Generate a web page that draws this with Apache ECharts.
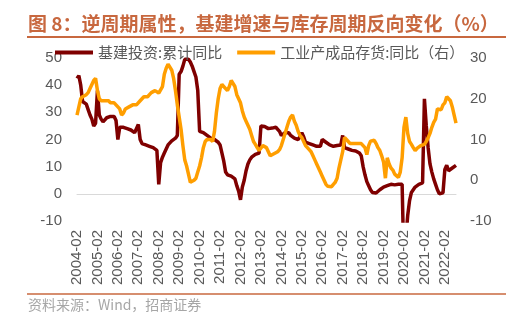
<!DOCTYPE html>
<html>
<head>
<meta charset="utf-8">
<script src="https://cdn.jsdelivr.net/npm/echarts@6/dist/echarts.min.js"></script>
<style>
  html, body { margin: 0; padding: 0; background: #fff; }
  #chart { width: 514px; height: 322px; }
</style>
</head>
<body>
<div id="chart"></div>
<script>
// Monthly observations, Feb–Dec of each year (January is not published), 2004-02 to 2022-08
const startYear = 2004;
const endYear = 2022;
const lastMonth = 8;
const categories = [];
for (let y = startYear; y <= endYear; y++) {
  for (let m = 2; m <= 12; m++) {
    if (y === endYear && m > lastMonth) break;
    categories.push(y + '-' + (m < 10 ? '0' + m : '' + m));
  }
}

// 基建投资：累计同比 (%), left axis — one row per year, Feb..Dec
const infraYoY = [
  42.5, 43.5, 40, 34, 34, 33, 31, 29, 27.5, 25, 26,          // 2004
  38, 29, 27.5, 26.5, 27, 28, 28.5, 28.5, 28, 28.5, 27,      // 2005
  20, 24.5, 25, 24.5, 24.5, 24, 23.5, 23.5, 23, 22.5, 22.5,  // 2006
  25.5, 20, 18.5, 18, 18, 18, 17.5, 17.5, 17, 16.5, 16,      // 2007
  3.5, 11.5, 13.5, 15, 16.5, 18, 18.5, 19.5, 20, 20.5, 21.5, // 2008
  44, 45, 47, 49.5, 50, 49.5, 48.5, 47, 45, 43, 38,          // 2009
  23, 22.5, 22.5, 22, 21.5, 21, 20.5, 20, 20, 19.5, 19,      // 2010
  18, 17.5, 12, 8, 7, 6.5, 6.5, 6, 5.5, 3, 1,                // 2011
  -2.2, 2.5, 5, 8.5, 11, 12.5, 13.5, 14, 14.5, 15, 15,       // 2012
  25, 24.5, 24.8, 24.5, 24, 24, 24.2, 24.5, 24.5, 24, 23,    // 2013
  21.5, 22, 22.5, 23, 22.5, 21.5, 21, 20.5, 20, 20, 21,      // 2014
  22.5, 21, 19, 18.5, 18.5, 18, 18, 17.8, 17.5, 17.5, 17.5,  // 2015
  20, 19.5, 19, 18.5, 18, 17.5, 17.5, 17.8, 17.8, 18, 18,    // 2016
  21.5, 17, 17, 16.5, 16.5, 16, 16, 15.8, 15.5, 15, 14,      // 2017
  10, 7, 4.5, 3, 1.5, 0.5, 0, 0.3, 0.5, 1.5, 2,              // 2018
  2.5, 3, 3, 3.5, 3.5, 3.5, 3.3, 3.5, 3.5, 3.3, 3.5,         // 2019
  -26.9, -16.4, -8, -2.5, 0.5, 1.5, 2.5, 3, 3.5, 3.8, 4,     // 2020
  35, 25, 17, 11, 8, 5.5, 3.5, 1.5, 0, -0.4, 0.4,            // 2021
  9, 10.5, 8.5, 8.5, 9.5, 10, 10.5                           // 2022
];

// 工业产成品存货：同比 (%), right axis — one row per year, Feb..Dec
const inventoryYoY = [
  16, 18, 20, 20.5, 20.5, 21, 21.5, 22.5, 23.5, 24.5, 25,    // 2004
  22, 20, 19.5, 19.5, 19.5, 19.5, 19.5, 19, 19, 19, 18.5,    // 2005
  18, 17.5, 16, 16.5, 17.5, 17.5, 18, 18, 18.5, 18.5, 18.5,  // 2006
  18.5, 19.5, 20, 20.5, 20.5, 20.5, 21, 21.5, 21.5, 22, 21.8,// 2007
  21.4, 21.5, 23, 26, 27.5, 28.5, 28.5, 27, 25, 22, 18.5,    // 2008
  15.5, 12.5, 8.5, 5, 3.5, 1.5, -0.5, -0.5, 0, 0.5, 2,       // 2009
  3.5, 5.5, 8, 9.5, 10, 10, 10, 9.5, 12, 16.5, 20,           // 2010
  22.5, 23.5, 23.5, 22.5, 22, 23, 24.5, 24.5, 23, 21, 20,    // 2011
  19, 17, 15.5, 14.5, 13.5, 12.5, 11, 9.5, 8.8, 8, 7.3,      // 2012
  7.5, 8.5, 8.5, 8, 7, 6, 6, 6.5, 6.5, 7, 7.5,               // 2013
  8.5, 10, 11.5, 13, 14.5, 15.5, 16, 14.5, 13.5, 12, 11,     // 2014
  10.5, 9.5, 8.5, 8, 7.5, 7, 6, 5, 4, 3, 2,                  // 2015
  1, 0, -1, -1.5, -1.8, -1.6, -1, -0.5, 0.5, 3, 5,           // 2016
  7, 10.5, 10, 9.5, 9, 8.8, 9, 9.2, 9, 8.8, 9,               // 2017
  9, 8, 6.3, 8.5, 9.6, 10, 9.8, 9, 8, 7.3, 6,                // 2018
  4.5, 0.5, 5.5, 4, 3, 2.5, 1.5, 1.2, 0.7, 2, 5.5,           // 2019
  13, 15.5, 11.5, 9.5, 8.8, 8, 7.3, 7.8, 8.2, 8.5, 8.5,      // 2020
  8.8, 9.5, 10.4, 11.5, 13, 14.2, 15, 17.5, 17.8, 17.3, 18.5,// 2021
  19, 20.5, 20.5, 19.5, 18, 16, 14                           // 2022
];

const leftTicks = { min: -10, max: 50, step: 10 };
const rightTicks = { min: -10, max: 30, step: 10 };

const titleText = '图 8：逆周期属性，基建增速与库存周期反向变化（%）';
const sourceText = '资料来源：Wind，招商证券';
const seriesNames = ['基建投资:累计同比', '工业产成品存货:同比（右）'];

const accent = '#C8683F';
const axisTextColor = '#595959';
const numFont = '"Liberation Sans", Arial, sans-serif';
const cjkFont = '"Noto Sans CJK SC", sans-serif';

const chart = echarts.init(document.getElementById('chart'), null, { renderer: 'canvas' });

chart.setOption({
  animation: false,
  backgroundColor: '#ffffff',
  graphic: [
    {
      type: 'text', left: 28, top: 14,
      style: { text: titleText, fill: accent, font: 'bold 19px ' + cjkFont }
    },
    {
      type: 'line', shape: { x1: 27, y1: 37, x2: 506, y2: 37 },
      style: { stroke: accent, lineWidth: 2 }
    },
    {
      type: 'line', shape: { x1: 27, y1: 294, x2: 506, y2: 294 },
      style: { stroke: accent, lineWidth: 1.5 }
    },
    {
      type: 'text', left: 28, top: 298,
      style: { text: sourceText, fill: '#A6A6A6', font: '14px ' + cjkFont }
    }
  ],
  legend: {
    left: 50, top: 40,
    icon: 'rect', itemWidth: 38, itemHeight: 4, itemGap: 15,
    textStyle: { fontSize: 15, color: axisTextColor, fontFamily: cjkFont },
    data: seriesNames
  },
  grid: { left: 77, right: 58, top: 58, bottom: 101, containLabel: false },
  xAxis: {
    type: 'category',
    data: categories,
    boundaryGap: false,
    axisLine: { onZero: true, onZeroAxisIndex: 0, lineStyle: { color: '#D9D9D9', width: 1 } },
    axisTick: { show: false },
    axisLabel: {
      rotate: 90, interval: 10, margin: 9,
      fontSize: 15, color: axisTextColor, fontFamily: numFont
    },
    splitLine: { show: false }
  },
  yAxis: [
    {
      type: 'value', min: leftTicks.min, max: leftTicks.max, interval: leftTicks.step,
      axisLine: { show: false }, axisTick: { show: false }, splitLine: { show: false },
      axisLabel: { fontSize: 15, color: axisTextColor, fontFamily: numFont, margin: 15 }
    },
    {
      type: 'value', min: rightTicks.min, max: rightTicks.max, interval: rightTicks.step,
      axisLine: { show: false }, axisTick: { show: false }, splitLine: { show: false },
      axisLabel: { fontSize: 15, color: axisTextColor, fontFamily: numFont, margin: 14 }
    }
  ],
  series: [
    {
      name: seriesNames[0], type: 'line', yAxisIndex: 0,
      data: infraYoY, showSymbol: false, symbol: 'none',
      lineStyle: { color: '#7F0000', width: 3.5 }, itemStyle: { color: '#7F0000' },
      clip: true
    },
    {
      name: seriesNames[1], type: 'line', yAxisIndex: 1,
      data: inventoryYoY, showSymbol: false, symbol: 'none',
      lineStyle: { color: '#FF9E00', width: 3.5 }, itemStyle: { color: '#FF9E00' },
      clip: true
    }
  ]
});
</script>
</body>
</html>
